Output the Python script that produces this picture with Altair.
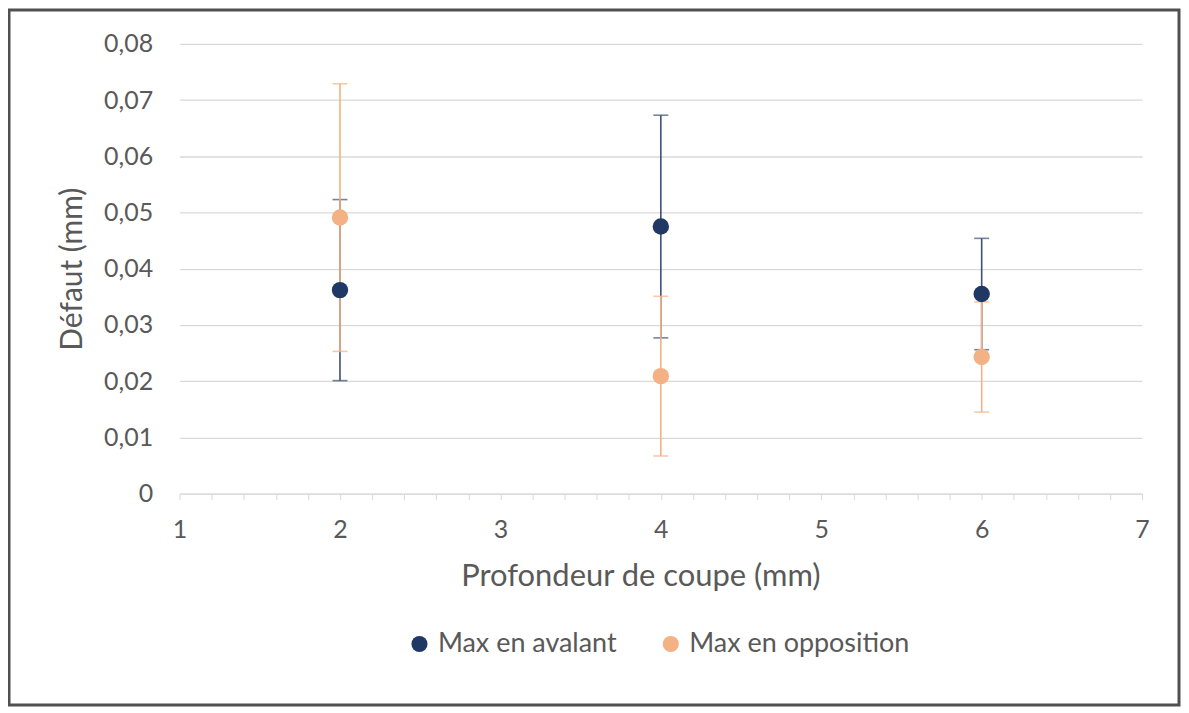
import altair as alt
import pandas as pd

series_names = ["Max en avalant", "Max en opposition"]
depth = [2, 4, 6]
avalant_y = [0.0362, 0.0475, 0.0355]
avalant_err = [0.0161, 0.0198, 0.0099]
opposition_y = [0.0491, 0.0209, 0.0243]
opposition_err = [0.0238, 0.0142, 0.0098]
x_ticks = [1, 1.2, 1.4, 1.6, 1.8, 2, 2.2, 2.4, 2.6, 2.8, 3, 3.2, 3.4, 3.6, 3.8, 4,
           4.2, 4.4, 4.6, 4.8, 5, 5.2, 5.4, 5.6, 5.8, 6, 6.2, 6.4, 6.6, 6.8, 7]
y_ticks = [0, 0.01, 0.02, 0.03, 0.04, 0.05, 0.06, 0.07, 0.08]

rows = []
for name, ys, es in [(series_names[0], avalant_y, avalant_err),
                     (series_names[1], opposition_y, opposition_err)]:
    for x, y, e in zip(depth, ys, es):
        rows.append({"serie": name, "x": x, "y": y, "lo": y - e, "hi": y + e})
df = pd.DataFrame(rows)

navy = "#1f3864"
navy_bar = "#3b5075"
orange = "#f4b183"
grey = "#595959"
FONT = "Lato"

W, H = 965, 451

xscale = alt.Scale(domain=[1, 7], nice=False, zero=False)
yscale = alt.Scale(domain=[0, 0.08], nice=False)
color = alt.Color("serie:N", scale=alt.Scale(domain=series_names, range=[navy, orange]),
                  legend=alt.Legend(title=None, orient="none", legendX=227, legendY=588,
                                    direction="horizontal", symbolType="circle",
                                    symbolSize=260, labelFontSize=27, labelColor=grey,
                                    labelFont=FONT, columnPadding=40, labelOffset=5,
                                    labelLimit=0, symbolStrokeWidth=0))

base = alt.Chart(df)

def bars(name, c):
    d = base.transform_filter(alt.datum.serie == name)
    rule = d.mark_rule(color=c, strokeWidth=1.6).encode(
        x=alt.X("x:Q", scale=xscale), y=alt.Y("lo:Q", scale=yscale), y2="hi:Q")
    cap_lo = d.mark_tick(color=c, orient="horizontal", size=15, thickness=1.6).encode(
        x=alt.X("x:Q", scale=xscale), y=alt.Y("lo:Q", scale=yscale))
    cap_hi = d.mark_tick(color=c, orient="horizontal", size=15, thickness=1.6).encode(
        x=alt.X("x:Q", scale=xscale), y=alt.Y("hi:Q", scale=yscale))
    return rule + cap_lo + cap_hi

navy_bars = bars(series_names[0], navy_bar)
orange_bars = bars(series_names[1], orange)

points = base.mark_circle(size=270, opacity=1).encode(
    x=alt.X("x:Q", scale=xscale,
            axis=alt.Axis(values=x_ticks, tickCount=100, title="Profondeur de coupe (mm)",
                          labelExpr="abs(datum.value - round(datum.value)) < 0.001 ? format(datum.value, 'd') : ''",
                          labelOverlap=False, labelBound=False, labelFlush=False,
                          grid=False, domainColor="#d9d9d9", tickColor="#d9d9d9",
                          tickSize=6, labelPadding=18, titlePadding=19,
                          titleX=462, titleAlign="center",
                          labelFontSize=25, titleFontSize=31, labelFont=FONT,
                          titleFont=FONT, labelColor=grey, titleColor=grey,
                          titleFontWeight="normal")),
    y=alt.Y("y:Q", scale=yscale,
            axis=alt.Axis(values=y_ticks, tickCount=100, title="Défaut (mm)",
                          labelExpr="datum.value == 0 ? '0' : replace(format(datum.value, '.2f'), '.', ',')",
                          labelOverlap=False,
                          gridColor="#d9d9d9", gridWidth=1.3, domain=False, ticks=False,
                          labelPadding=27, titlePadding=16, labelFontSize=25,
                          titleFontSize=30, labelFont=FONT, titleFont=FONT,
                          labelColor=grey, titleColor=grey, titleFontWeight="normal")),
    color=color,
    order=alt.Order("serie:N"),
)

frame = alt.Chart(pd.DataFrame({"k": [0]})).mark_rect(
    fill=None, stroke="#505050", strokeWidth=3).encode(
    x=alt.value(-171), x2=alt.value(W + 37), y=alt.value(-34), y2=alt.value(H + 212))

chart = alt.layer(navy_bars, orange_bars, points, frame).properties(
    width=W, height=H,
    padding={"left": 172, "top": 35, "right": 39, "bottom": 214},
    autosize=alt.AutoSizeParams(type="none"),
    background="white",
).configure_view(stroke=None)

chart.save("out.html", embed_options={"renderer": "svg", "actions": False})
